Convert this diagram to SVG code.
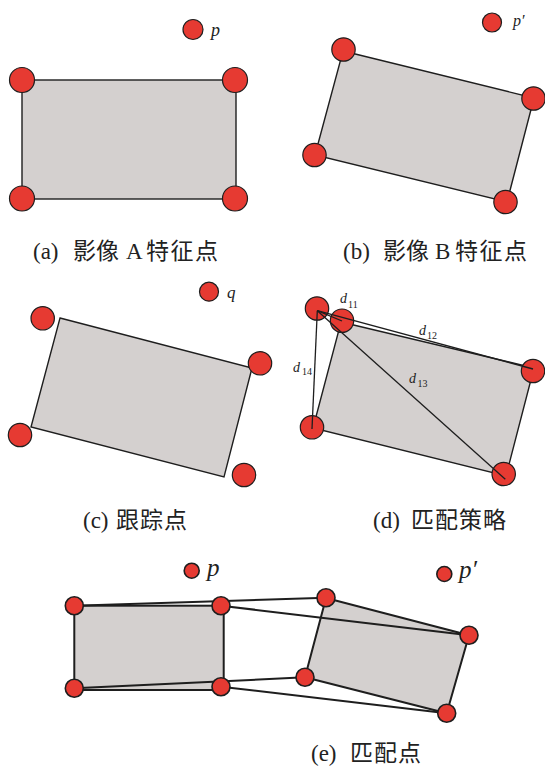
<svg xmlns="http://www.w3.org/2000/svg" width="545" height="769" viewBox="0 0 545 769">
<style>
.shape{fill:#d4d0cf;stroke:#1e1e1e;stroke-width:1.4}
.shape2{fill:#d4d0cf;stroke:#1e1e1e;stroke-width:2}
.pt{fill:#e63a32;stroke:#1e1e1e;stroke-width:1.2}
.pt2{fill:#e63a32;stroke:#1e1e1e;stroke-width:1.6}
.ln{stroke:#1e1e1e;stroke-width:1.3;fill:none}
.ln2{stroke:#1e1e1e;stroke-width:2;fill:none}
.cap{font-family:"Liberation Serif","Noto Sans CJK SC",serif;font-size:23px;fill:#222}
.var{font-family:"Liberation Serif",serif;font-style:italic;fill:#222}
.sub{font-family:"Liberation Serif",serif;font-size:10px;fill:#222}
</style>
<rect width="545" height="769" fill="#ffffff"/>

<g id="panel-a">
  <rect class="shape" x="22" y="80" width="214" height="119"/>
  <circle class="pt" cx="22" cy="80" r="12.5"/>
  <circle class="pt" cx="235" cy="80" r="12.5"/>
  <circle class="pt" cx="22" cy="198.5" r="12.5"/>
  <circle class="pt" cx="235" cy="198.5" r="12.5"/>
  <circle class="pt" cx="193" cy="29.5" r="10"/>
  <text class="var" x="211" y="36" font-size="18">p</text>
  <text class="cap" y="259"><tspan x="33">(a)</tspan><tspan x="73">影像</tspan><tspan x="126" font-family="Liberation Serif">A</tspan><tspan x="146" letter-spacing="1.5">特征点</tspan></text>
</g>

<g id="panel-b">
  <polygon class="shape" points="343,51 534,98 507,202 315,155"/>
  <circle class="pt" cx="343.5" cy="49.5" r="11.7"/>
  <circle class="pt" cx="533.5" cy="98.5" r="11.7"/>
  <circle class="pt" cx="314.5" cy="155" r="11.7"/>
  <circle class="pt" cx="505.5" cy="202" r="11.7"/>
  <circle class="pt" cx="492" cy="22.5" r="9.5"/>
  <text class="var" x="513" y="26" font-size="16">p′</text>
  <text class="cap" y="259"><tspan x="343">(b)</tspan><tspan x="383">影像</tspan><tspan x="435" font-family="Liberation Serif">B</tspan><tspan x="455" letter-spacing="1.5">特征点</tspan></text>
</g>

<g id="panel-c">
  <polygon class="shape" points="60,318 252,368 224,477 31,427"/>
  <circle class="pt" cx="42.7" cy="318.3" r="11.7"/>
  <circle class="pt" cx="260" cy="363.3" r="11.7"/>
  <circle class="pt" cx="244" cy="475" r="11.7"/>
  <circle class="pt" cx="20" cy="435" r="11.7"/>
  <circle class="pt" cx="209" cy="291.7" r="9.5"/>
  <text class="var" x="227" y="298" font-size="17">q</text>
  <text class="cap" y="528"><tspan x="83">(c)</tspan><tspan x="116" letter-spacing="1">跟踪点</tspan></text>
</g>

<g id="panel-d">
  <polygon class="shape" points="341,322 534,368 506,476 313,428"/>
  <circle class="pt" cx="317" cy="308.5" r="11.7"/>
  <circle class="pt" cx="342" cy="320.7" r="11.7"/>
  <circle class="pt" cx="533" cy="371" r="11.7"/>
  <circle class="pt" cx="312" cy="427.3" r="11.7"/>
  <circle class="pt" cx="503.7" cy="474" r="11.7"/>
  <g id="d-lines">
    <line class="ln" x1="317.3" y1="310.7" x2="342" y2="321"/>
    <line class="ln" x1="317.3" y1="310.7" x2="533" y2="369"/>
    <line class="ln" x1="317.3" y1="310.7" x2="505.3" y2="479.3"/>
    <line class="ln" x1="317.3" y1="310.7" x2="312" y2="429"/>
  </g>
  <text class="var" x="340" y="303" font-size="14">d</text><text class="sub" x="348" y="308">11</text>
  <text class="var" x="419" y="335" font-size="14">d</text><text class="sub" x="427" y="339">12</text>
  <text class="var" x="409" y="383" font-size="14">d</text><text class="sub" x="417.5" y="386.5">13</text>
  <text class="var" x="293" y="372" font-size="14">d</text><text class="sub" x="302" y="375">14</text>
  <text class="cap" y="528"><tspan x="373">(d)</tspan><tspan x="411" letter-spacing="1">匹配策略</tspan></text>
</g>

<g id="panel-e-left">
  <rect class="shape2" x="74.3" y="605.7" width="149.4" height="84.3"/>
</g>
<g id="panel-e-right">
  <polygon class="shape2" points="326,598 469,635.3 446.7,713.3 305,677.3"/>
</g>
<g id="connectors">
  <line class="ln2" x1="74.3" y1="605.7" x2="326" y2="597.7"/>
  <line class="ln2" x1="221" y1="605.7" x2="469" y2="635.3"/>
  <line class="ln2" x1="74.3" y1="688.3" x2="305" y2="677.3"/>
  <line class="ln2" x1="221" y1="686.7" x2="446.7" y2="713.3"/>
</g>
<g id="panel-e-points">
  <circle class="pt2" cx="74.3" cy="605.7" r="9"/>
  <circle class="pt2" cx="221" cy="605.7" r="9"/>
  <circle class="pt2" cx="74.3" cy="688.3" r="9"/>
  <circle class="pt2" cx="221" cy="686.7" r="9"/>
  <circle class="pt2" cx="326" cy="597.7" r="9"/>
  <circle class="pt2" cx="469" cy="635.3" r="9"/>
  <circle class="pt2" cx="305" cy="677.3" r="9"/>
  <circle class="pt2" cx="446.7" cy="713.3" r="9"/>
  <circle class="pt2" cx="191.7" cy="570.7" r="7.5"/>
  <circle class="pt2" cx="444.3" cy="574" r="7.5"/>
  <text class="var" x="207" y="576" font-size="25">p</text>
  <text class="var" x="459" y="578" font-size="25">p′</text>
  <text class="cap" y="761"><tspan x="311">(e)</tspan><tspan x="350" letter-spacing="1">匹配点</tspan></text>
</g>
</svg>
